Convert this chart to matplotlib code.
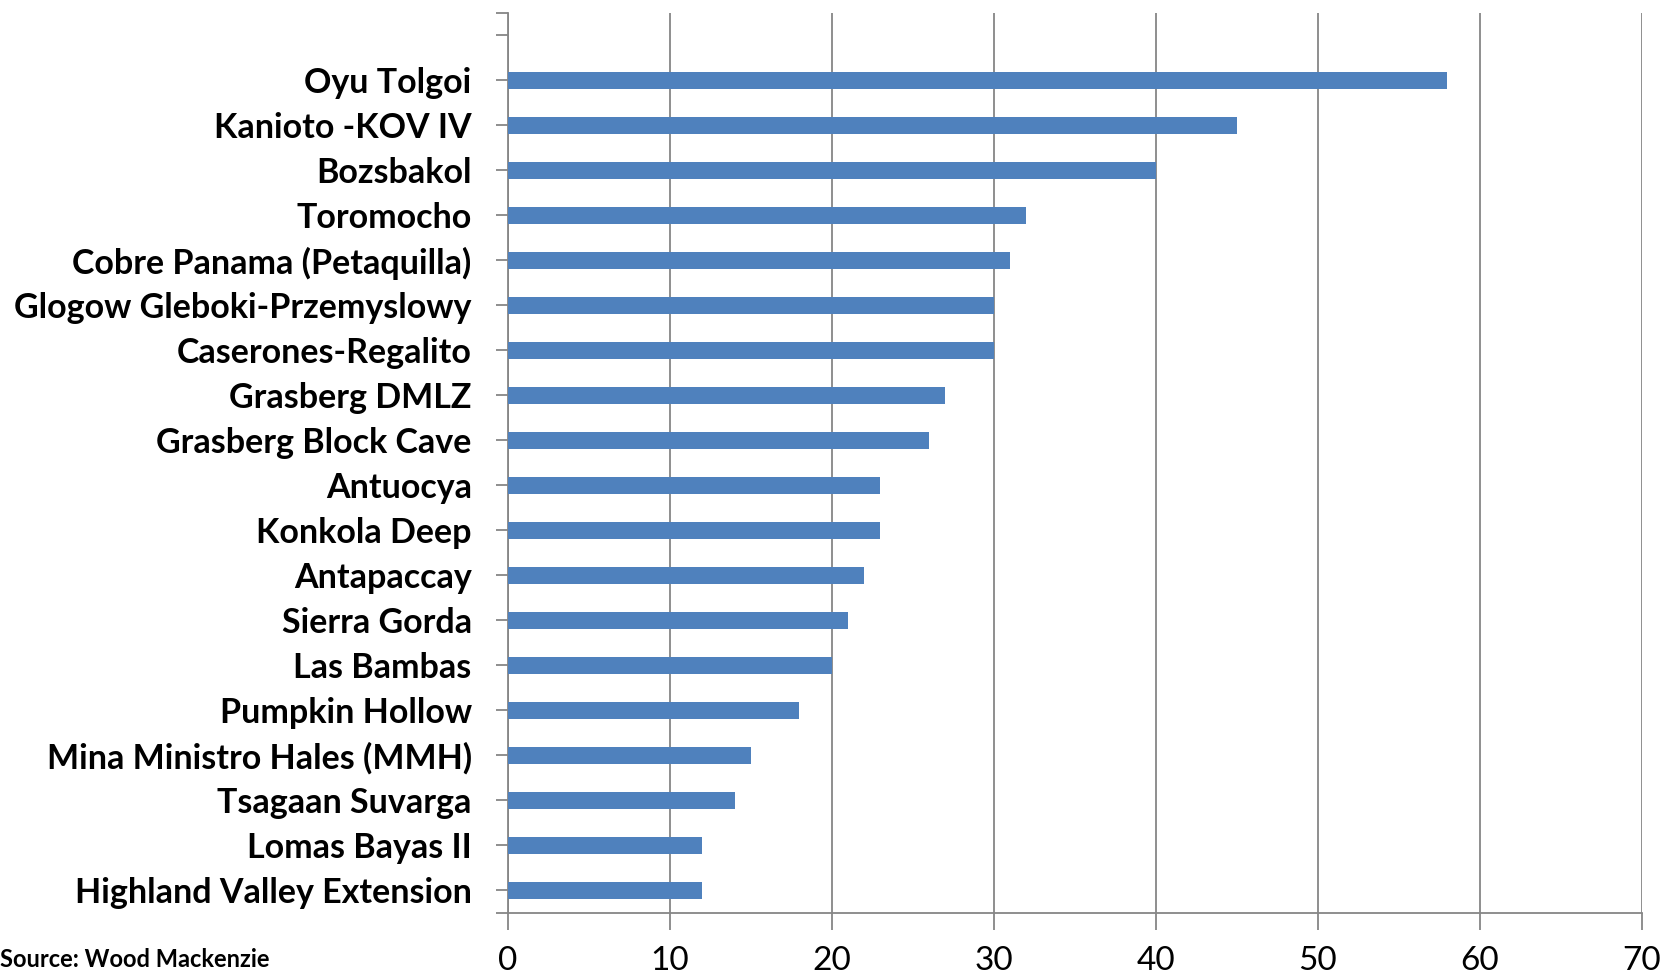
import matplotlib.pyplot as plt

mines = ["Highland Valley Extension", "Lomas Bayas II", "Tsagaan Suvarga",
         "Mina Ministro Hales (MMH)", "Pumpkin Hollow", "Las Bambas",
         "Sierra Gorda", "Antapaccay", "Konkola Deep", "Antuocya",
         "Grasberg Block Cave", "Grasberg DMLZ", "Caserones-Regalito",
         "Glogow Gleboki-Przemyslowy", "Cobre Panama (Petaquilla)",
         "Toromocho", "Bozsbakol", "Kanioto -KOV IV", "Oyu Tolgoi"]
values = [12, 12, 14, 15, 18, 20, 21, 22, 23, 23, 26, 27, 30, 30, 31, 32, 40, 45, 58]
xticks = [0, 10, 20, 30, 40, 50, 60, 70]

grey = "#868686"

fig = plt.figure(figsize=(16.65, 9.75), dpi=100)
ax = fig.add_axes([0.305, 0.064, 0.681, 0.923])

pos = list(range(len(mines)))
ax.barh(pos, values, height=0.38, color="#4F81BD", zorder=3)

ax.set_xlim(0, 70)
ax.set_ylim(-0.5, len(mines) + 0.5)
ax.set_xticks(xticks)
ax.set_xticklabels([str(t) for t in xticks], fontsize=24, family="Lato")

ax.set_yticks(pos + [len(mines)])
ax.set_yticklabels(mines + [""], fontsize=24.5, fontweight="bold", family="Lato")
ax.set_yticks([-0.5, len(mines) + 0.5], minor=True)

ax.grid(axis="x", color=grey, linewidth=1.3, zorder=0)
for s in ["top", "right"]:
    ax.spines[s].set_visible(False)
for s in ["left", "bottom"]:
    ax.spines[s].set_color(grey)
    ax.spines[s].set_linewidth(1.3)

ax.tick_params(axis="y", which="both", length=9, width=1.3, color=grey, pad=17)
ax.tick_params(axis="x", length=12, width=1.3, color=grey, pad=12)

fig.text(0.0, 0.004, "Source: Wood Mackenzie", fontsize=17, fontweight="bold",
         family="Lato", va="bottom", ha="left")

fig.savefig("out.png", dpi=100)
